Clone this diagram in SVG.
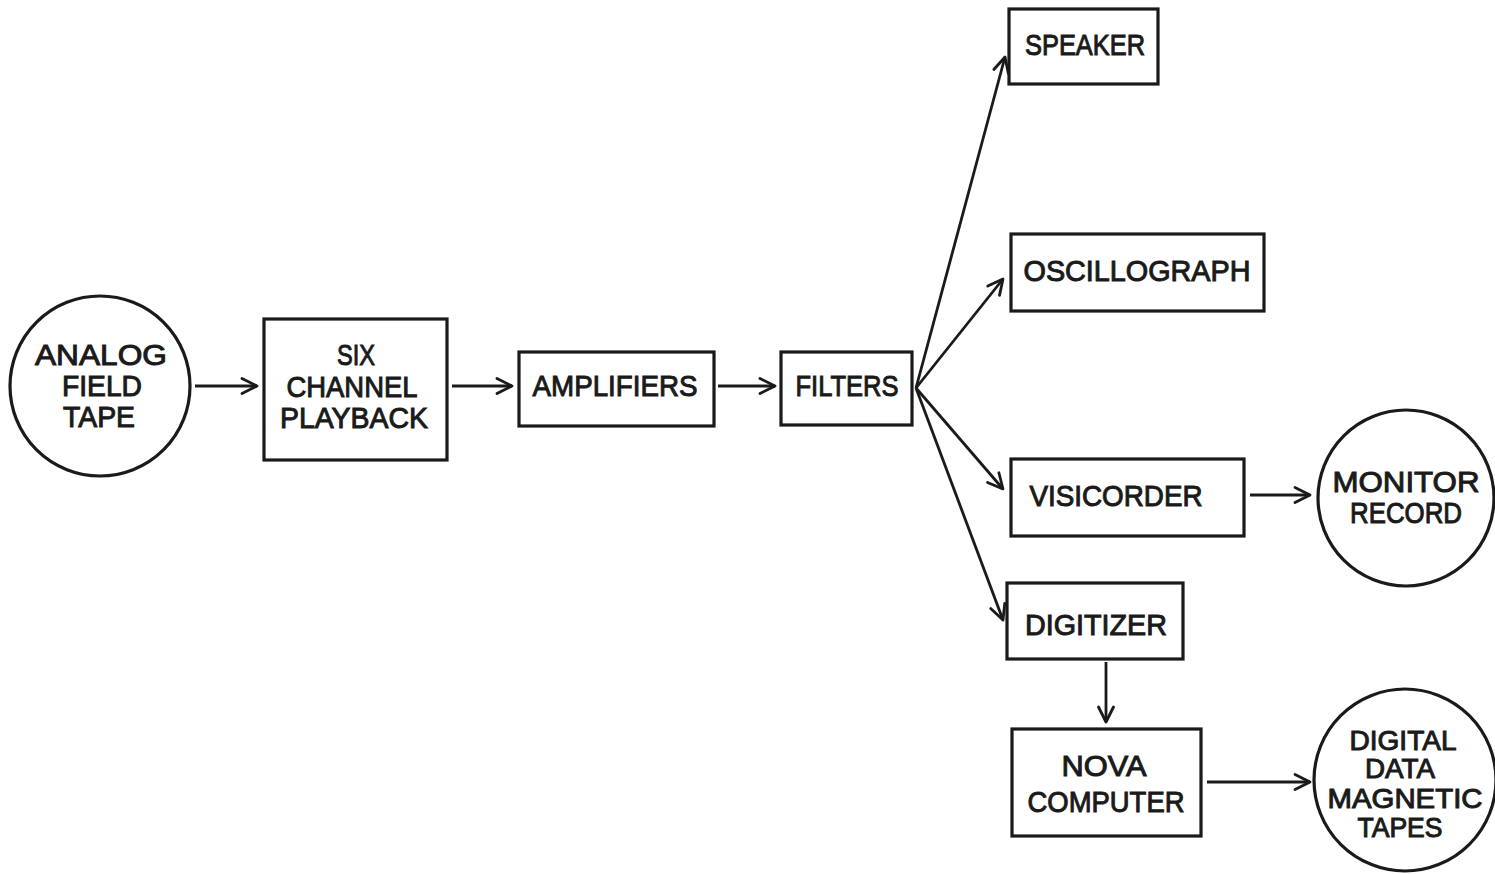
<svg xmlns="http://www.w3.org/2000/svg" width="1495" height="874" viewBox="0 0 1495 874">
<defs>
<marker id="arr" viewBox="0 0 20 20" refX="18" refY="10" markerWidth="20" markerHeight="20" markerUnits="userSpaceOnUse" orient="auto">
<path d="M3 2.5 L18 10 L3 17.5" fill="none" stroke="#1a1a1a" stroke-width="2.8" stroke-linecap="round" stroke-linejoin="round"/>
</marker>
</defs>
<style>
.box{fill:#fff;stroke:#1a1a1a;stroke-width:3.2}
.t{font-family:"Liberation Sans",Arial,sans-serif;font-size:30px;fill:#1a1a1a;text-anchor:middle;stroke:#1a1a1a;stroke-width:1}
.d{font-size:28px}
.c{fill:none;stroke:#1a1a1a;stroke-width:2.8;marker-end:url(#arr)}
</style>
<rect width="1495" height="874" fill="#fff"/>
<g id="analog"><circle class="box" cx="100" cy="386" r="90"/>
<text class="t" x="101" y="365" textLength="132" lengthAdjust="spacingAndGlyphs">ANALOG</text>
<text class="t" x="102" y="396" textLength="80" lengthAdjust="spacingAndGlyphs">FIELD</text>
<text class="t" x="99" y="427" textLength="72" lengthAdjust="spacingAndGlyphs">TAPE</text></g>
<g id="six"><rect class="box" x="264" y="319" width="183" height="141"/>
<text class="t" x="356" y="365" textLength="38" lengthAdjust="spacingAndGlyphs">SIX</text>
<text class="t" x="352" y="397" textLength="131" lengthAdjust="spacingAndGlyphs">CHANNEL</text>
<text class="t" x="354" y="428" textLength="148" lengthAdjust="spacingAndGlyphs">PLAYBACK</text></g>
<g id="amplifiers"><rect class="box" x="519" y="352" width="195" height="74"/>
<text class="t" x="615" y="396" textLength="165" lengthAdjust="spacingAndGlyphs">AMPLIFIERS</text></g>
<g id="filters"><rect class="box" x="781" y="352" width="131" height="73"/>
<text class="t" x="847" y="396" textLength="103" lengthAdjust="spacingAndGlyphs">FILTERS</text></g>
<g id="speaker"><rect class="box" x="1009" y="9" width="149" height="75"/>
<text class="t" x="1085" y="55" textLength="120" lengthAdjust="spacingAndGlyphs">SPEAKER</text></g>
<g id="oscillograph"><rect class="box" x="1011" y="234" width="253" height="77"/>
<text class="t" x="1137" y="281" textLength="227" lengthAdjust="spacingAndGlyphs">OSCILLOGRAPH</text></g>
<g id="visicorder"><rect class="box" x="1011" y="459" width="233" height="77"/>
<text class="t" x="1116" y="506" textLength="173" lengthAdjust="spacingAndGlyphs">VISICORDER</text></g>
<g id="monitor"><circle class="box" cx="1406" cy="498" r="88"/>
<text class="t" x="1406" y="492" textLength="147" lengthAdjust="spacingAndGlyphs">MONITOR</text>
<text class="t" x="1406" y="523" textLength="112" lengthAdjust="spacingAndGlyphs">RECORD</text></g>
<g id="digitizer"><rect class="box" x="1007" y="583" width="176" height="76"/>
<text class="t" x="1096" y="635" textLength="142" lengthAdjust="spacingAndGlyphs">DIGITIZER</text></g>
<g id="nova"><rect class="box" x="1012" y="729" width="189" height="107"/>
<text class="t" x="1104" y="776" textLength="85" lengthAdjust="spacingAndGlyphs">NOVA</text>
<text class="t" x="1106" y="812" textLength="157" lengthAdjust="spacingAndGlyphs">COMPUTER</text></g>
<g id="digital"><circle class="box" cx="1405" cy="780" r="91"/>
<text class="t d" x="1403" y="750" textLength="107" lengthAdjust="spacingAndGlyphs">DIGITAL</text>
<text class="t d" x="1400" y="778" textLength="70" lengthAdjust="spacingAndGlyphs">DATA</text>
<text class="t d" x="1405" y="808" textLength="155" lengthAdjust="spacingAndGlyphs">MAGNETIC</text>
<text class="t d" x="1400" y="837" textLength="85" lengthAdjust="spacingAndGlyphs">TAPES</text></g>
<g id="connectors">
<line class="c" x1="195" y1="386" x2="257" y2="386"/>
<line class="c" x1="452" y1="386" x2="512" y2="386"/>
<line class="c" x1="718" y1="386" x2="775" y2="386"/>
<line class="c" x1="916" y1="388" x2="1005" y2="57"/>
<line class="c" x1="916" y1="388" x2="1003" y2="279"/>
<line class="c" x1="916" y1="388" x2="1003" y2="489"/>
<line class="c" x1="916" y1="388" x2="1003" y2="620"/>
<line class="c" x1="1250" y1="495" x2="1310" y2="495"/>
<line class="c" x1="1106" y1="662" x2="1106" y2="722"/>
<line class="c" x1="1207" y1="782" x2="1310" y2="782"/>
</g>
</svg>
